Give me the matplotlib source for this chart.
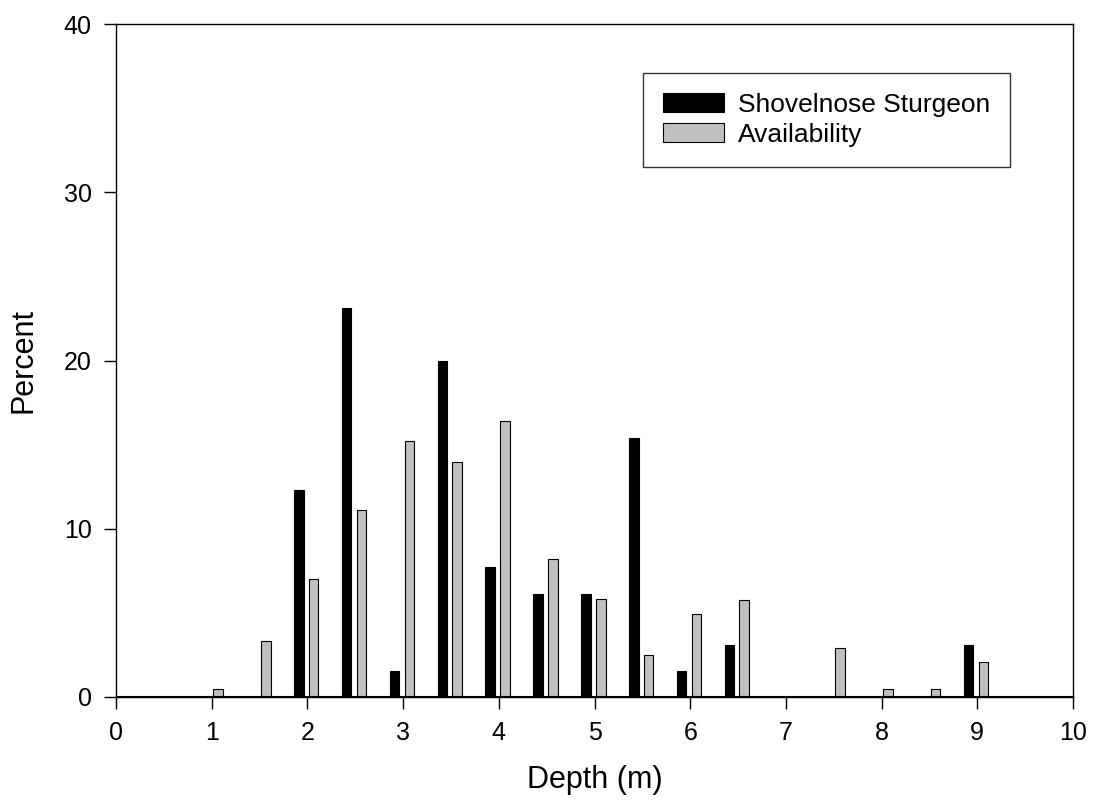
import numpy as np
import matplotlib.pyplot as plt

plt.rcParams['font.family'] = ['Liberation Sans', 'DejaVu Sans']

# Profundidad (m) y porcentajes
depth = [1.0, 1.5, 2.0, 2.5, 3.0, 3.5, 4.0, 4.5, 5.0, 5.5, 6.0, 6.5, 7.0, 7.5, 8.0, 8.5, 9.0]
sturgeon = [0, 0, 12.3, 23.1, 1.54, 20.0, 7.7, 6.15, 6.15, 15.4, 1.54, 3.08, 0, 0, 0, 0, 3.08]
availability = [0.45, 3.3, 7.0, 11.1, 15.2, 13.95, 16.4, 8.2, 5.8, 2.5, 4.95, 5.75, 0, 2.9, 0.45, 0.45, 2.1]

depth = np.array(depth)

fig = plt.figure(figsize=(10.94, 8.02), dpi=100)
ax = fig.add_axes([116 / 1094, 105 / 802, 957 / 1094, 673 / 802])

ax.bar(depth - 0.09, sturgeon, width=0.1, color='black', edgecolor='black',
       linewidth=0.8, label='Shovelnose Sturgeon', zorder=3)
ax.bar(depth + 0.065, availability, width=0.1, color='#c0c0c0', edgecolor='black',
       linewidth=0.8, label='Availability', zorder=3)

ax.axhline(0, color='black', linewidth=1.5, zorder=4)

ax.set_xlim(0, 10)
ax.set_ylim(0, 40)
ax.set_xticks(range(0, 11))
ax.set_yticks(range(0, 41, 10))
ax.tick_params(direction='out', length=8.5, width=1, labelsize=18)
ax.tick_params(axis='x', pad=9)
ax.tick_params(axis='y', pad=9)
for s in ax.spines.values():
    s.set_linewidth(1)

ax.set_xlabel('Depth (m)', fontsize=22, labelpad=14)
ax.set_ylabel('Percent', fontsize=22, labelpad=18)

leg = ax.legend(loc='upper left', bbox_to_anchor=(0.551, 0.927), fontsize=19,
                frameon=True, fancybox=False, edgecolor='black', borderpad=0.75,
                handlelength=2.3, handleheight=0.76, handletextpad=0.55,
                labelspacing=0.22, borderaxespad=0)
leg.get_frame().set_linewidth(1)

fig.savefig('out.png', dpi=100)
